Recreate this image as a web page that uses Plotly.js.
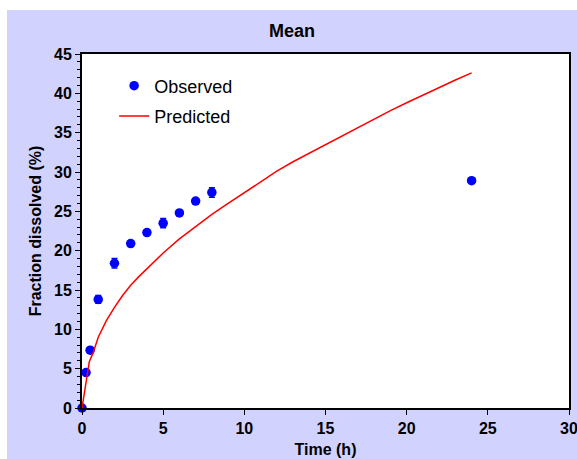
<!DOCTYPE html>
<html><head><meta charset="utf-8">
<script src="https://cdn.plot.ly/plotly-3.0.1.min.js"></script>
<style>
html,body{margin:0;padding:0;background:#fff;width:577px;height:459px;overflow:hidden;}
#plot{position:absolute;left:7px;top:10px;width:570px;height:449px;}
</style></head>
<body><div id="plot"></div>
<script>
const obsTime = [0, 0.25, 0.5, 1, 2, 3, 4, 5, 6, 7, 8, 24];
const obsMean = [0, 4.5, 7.35, 13.8, 18.4, 20.9, 22.3, 23.5, 24.8, 26.3, 27.4, 28.9];
const obsErr  = [0.2, 0.3, 0.3, 0.5, 0.6, 0.3, 0.3, 0.6, 0.3, 0.3, 0.6, 0.2];
const predTime = [0, 0.25, 0.45, 0.7, 1, 1.5, 2, 2.5, 3, 3.5, 4, 5, 6, 7, 8, 9, 10, 11, 12, 13, 14, 15, 16, 17, 18, 19, 20, 21, 22, 23, 24];
const predVal  = [0, 3.0, 5.9, 7.1, 9.0, 11.1, 12.8, 14.3, 15.6, 16.7, 17.7, 19.7, 21.5, 23.1, 24.6, 26.0, 27.4, 28.8, 30.1, 31.3, 32.4, 33.5, 34.6, 35.7, 36.8, 37.8, 38.8, 39.8, 40.8, 41.7, 42.6];
const xTicks = [0, 5, 10, 15, 20, 25, 30];
const yTicks = [0, 5, 10, 15, 20, 25, 30, 35, 40, 45];

const font = "Liberation Sans, Arial, sans-serif";
const traces = [
  {x: obsTime, y: obsMean, mode: 'markers', type: 'scatter', name: 'Observed',
   legendgroup: 'a', cliponaxis: false,
   marker: {color: '#0000FF', size: 9.5},
   error_y: {type: 'data', array: obsErr, visible: true, color: '#0000FF', thickness: 1.5, width: 3}},
  {x: predTime, y: predVal, mode: 'lines', type: 'scatter', name: 'Predicted',
   legendgroup: 'b', line: {color: '#FF0000', width: 1.5}}
];
const layout = {
  width: 570, height: 449,
  margin: {l: 75, r: 8, t: 44, b: 51},
  paper_bgcolor: '#D2D2FF', plot_bgcolor: '#FFFFFF',
  font: {family: font, color: '#000'},
  title: {text: '<b>Mean</b>', font: {size: 18, family: font}, x: 0.5, xref: 'container', y: 0.953, yref: 'container', yanchor: 'middle'},
  showlegend: true,
  legend: {x: 0.066, y: 0.962, xanchor: 'left', yanchor: 'top', bgcolor: 'rgba(0,0,0,0)',
           font: {size: 18, family: font}, traceorder: 'grouped', tracegroupgap: 4},
  xaxis: {range: [0, 30], tickvals: xTicks, ticktext: xTicks.map(String), showgrid: false, zeroline: false,
          showline: true, linecolor: '#000', linewidth: 2, mirror: true,
          ticks: 'outside', ticklen: 5, tickwidth: 1, tickcolor: '#000', ticklabeloverflow: 'allow',
          tickfont: {size: 16, family: font, weight: 'bold'},
          title: {text: '<b>Time (h)</b>', font: {size: 16, family: font}, standoff: 8}},
  yaxis: {range: [0, 45], tickvals: yTicks, ticktext: yTicks.map(String), showgrid: false, zeroline: false,
          showline: true, linecolor: '#000', linewidth: 2, mirror: true,
          ticks: 'outside', ticklen: 5, tickwidth: 1, tickcolor: '#000',
          minor: {dtick: 1, ticks: 'outside', ticklen: 3, tickwidth: 1, tickcolor: '#000', showgrid: false},
          tickfont: {size: 16, family: font, weight: 'bold'},
          title: {text: '<b>Fraction dissolved (%)</b>', font: {size: 16, family: font}, standoff: 8}}
};
Plotly.newPlot('plot', traces, layout, {displayModeBar: false, staticPlot: true});
</script></body></html>
